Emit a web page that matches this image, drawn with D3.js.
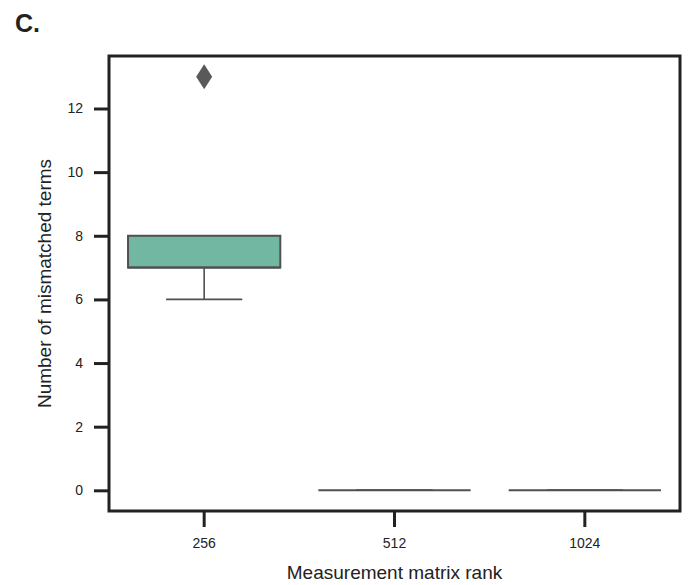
<!DOCTYPE html>
<html>
<head>
<meta charset="utf-8">
<script src="https://cdn.jsdelivr.net/npm/d3@7"></script>
<style>
  body { margin: 0; background: #fff; }
  text { font-family: "Liberation Sans", Arial, sans-serif; fill: #222; }
</style>
</head>
<body>
<svg id="chart" width="689" height="585"></svg>
<script>
// data
var ranks = ["256", "512", "1024"];
var q1 = [7, 0, 0];
var median = [7, 0, 0];
var q3 = [8, 0, 0];
var whiskerLow = [6, 0, 0];
var whiskerHigh = [8, 0, 0];
var outliers = [[13], [], []];
var yTicks = [0, 2, 4, 6, 8, 10, 12];

var svg = d3.select("#chart");
var margin = {top: 56, right: 9, bottom: 74, left: 109};
var width = 689 - margin.left - margin.right,
    height = 585 - margin.top - margin.bottom;

var g = svg.append("g")
    .attr("transform", "translate(" + margin.left + "," + margin.top + ")");

var x = d3.scaleBand().domain(ranks).range([0, width]).padding(0);
var y = d3.scaleLinear().domain([-0.65, 13.65]).range([height, 0]);

var boxW = x.bandwidth() * 0.8;
var lineCol = "#505050";

var boxes = g.selectAll(".box")
    .data(ranks)
    .enter().append("g")
    .attr("class", "box")
    .attr("transform", function (d) { return "translate(" + (x(d) + x.bandwidth() / 2) + ",0)"; });

// whiskers
boxes.append("line")
    .attr("x1", 0).attr("x2", 0)
    .attr("y1", function (d, i) { return y(whiskerLow[i]); })
    .attr("y2", function (d, i) { return y(q1[i]); })
    .attr("stroke", lineCol).attr("stroke-width", 1.6);
boxes.append("line")
    .attr("x1", 0).attr("x2", 0)
    .attr("y1", function (d, i) { return y(whiskerHigh[i]); })
    .attr("y2", function (d, i) { return y(q3[i]); })
    .attr("stroke", lineCol).attr("stroke-width", 1.6);
// caps
boxes.append("line")
    .attr("x1", -boxW / 4).attr("x2", boxW / 4)
    .attr("y1", function (d, i) { return y(whiskerLow[i]); })
    .attr("y2", function (d, i) { return y(whiskerLow[i]); })
    .attr("stroke", lineCol).attr("stroke-width", 1.6);
boxes.append("line")
    .attr("x1", -boxW / 4).attr("x2", boxW / 4)
    .attr("y1", function (d, i) { return y(whiskerHigh[i]); })
    .attr("y2", function (d, i) { return y(whiskerHigh[i]); })
    .attr("stroke", lineCol).attr("stroke-width", 1.6);

// box
boxes.append("rect")
    .attr("x", -boxW / 2)
    .attr("width", boxW)
    .attr("y", function (d, i) { return y(q3[i]); })
    .attr("height", function (d, i) { return y(q1[i]) - y(q3[i]); })
    .attr("fill", "#71b7a1")
    .attr("stroke", lineCol).attr("stroke-width", 2);

// median
boxes.append("line")
    .attr("x1", -boxW / 2).attr("x2", boxW / 2)
    .attr("y1", function (d, i) { return y(median[i]); })
    .attr("y2", function (d, i) { return y(median[i]); })
    .attr("stroke", lineCol).attr("stroke-width", 2);

// outliers
boxes.selectAll(".flier")
    .data(function (d, i) { return outliers[i]; })
    .enter().append("path")
    .attr("class", "flier")
    .attr("d", "M0,-12.5L8,0L0,12.5L-8,0Z")
    .attr("transform", function (v) { return "translate(0," + y(v) + ")"; })
    .attr("fill", "#595959");

// axes
var yAxis = g.append("g")
    .call(d3.axisLeft(y).tickValues(yTicks).tickSize(15).tickPadding(11).tickFormat(d3.format("d")));
var xAxis = g.append("g")
    .attr("transform", "translate(0," + height + ")")
    .call(d3.axisBottom(x).tickSize(16).tickPadding(11));

[yAxis, xAxis].forEach(function (a) {
    a.select(".domain").remove();
    a.attr("font-size", null).attr("font-family", null);
    a.selectAll(".tick line").attr("stroke", "#222").attr("stroke-width", 3);
    a.selectAll(".tick text").style("font-size", "14px").attr("fill", "#222");
});

// frame
g.append("rect")
    .attr("width", width).attr("height", height)
    .attr("fill", "none")
    .attr("stroke", "#222").attr("stroke-width", 3);

// labels
svg.append("text")
    .attr("x", margin.left + width / 2)
    .attr("y", 579)
    .attr("text-anchor", "middle")
    .style("font-size", "19px")
    .text("Measurement matrix rank");

svg.append("text")
    .attr("transform", "translate(51," + (margin.top + height / 2) + ") rotate(-90)")
    .attr("text-anchor", "middle")
    .style("font-size", "19px")
    .text("Number of mismatched terms");

svg.append("text")
    .attr("x", 15)
    .attr("y", 32)
    .style("font-size", "25px")
    .style("font-weight", "bold")
    .attr("fill", "#111")
    .text("C.");
</script>
</body>
</html>
